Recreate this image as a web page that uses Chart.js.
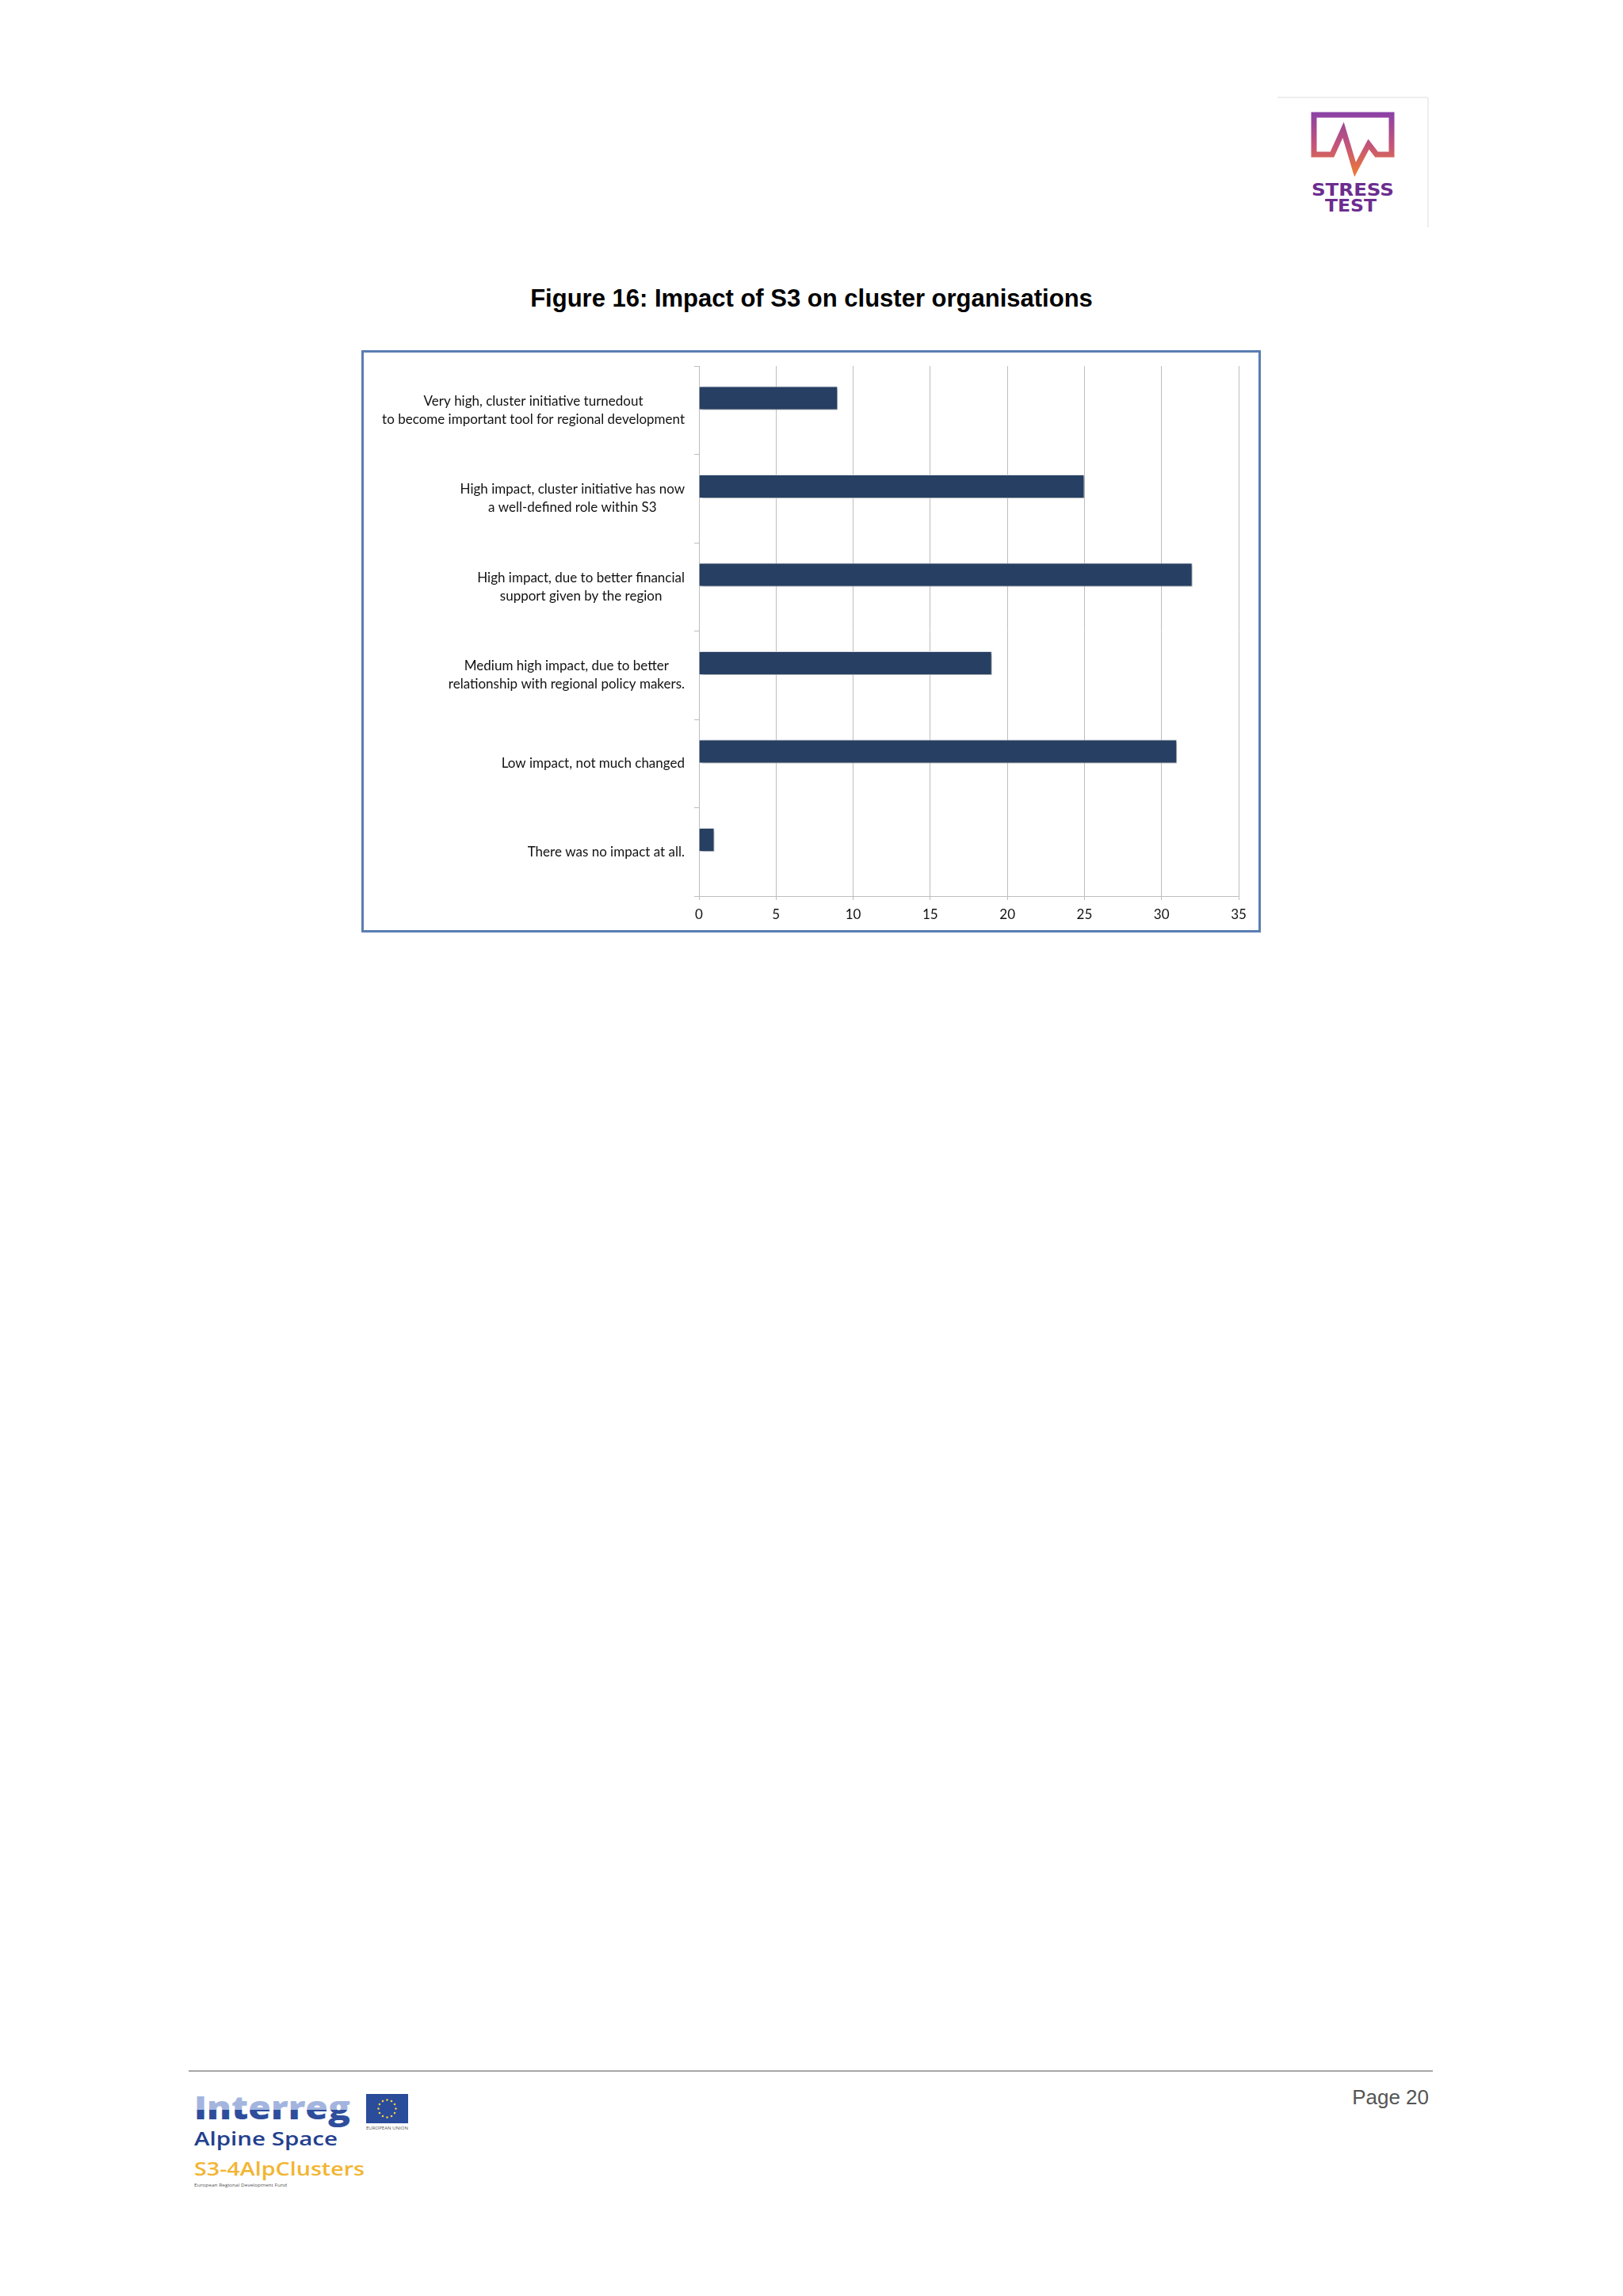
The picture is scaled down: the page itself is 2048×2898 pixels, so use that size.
<!DOCTYPE html>
<html>
<head>
<meta charset="utf-8">
<script src="https://cdn.jsdelivr.net/npm/chart.js@4.4.1/dist/chart.umd.min.js"></script>
<style>
  html, body { margin: 0; padding: 0; background: #ffffff; }
  body { width: 2048px; height: 2898px; position: relative; overflow: hidden; }
  #page { position: absolute; left: 0; top: 0; }
  #chartBox { position: absolute; left: 456px; top: 442px; width: 1135px; height: 735px;
              box-sizing: border-box; border: 3px solid #5B7DB2; background: #ffffff; }
  #chartWrap { position: relative; width: 1129px; height: 729px; }
</style>
</head>
<body>
<svg id="page" width="2048" height="2898" xmlns="http://www.w3.org/2000/svg">
  <defs>
    <linearGradient id="stressGrad" gradientUnits="userSpaceOnUse" x1="0" y1="142" x2="0" y2="217">
      <stop offset="0" stop-color="#8A41A6"/>
      <stop offset="0.55" stop-color="#C4547A"/>
      <stop offset="1" stop-color="#E8763A"/>
    </linearGradient>
    <linearGradient id="interregGrad" gradientUnits="userSpaceOnUse" x1="0" y1="2645" x2="0" y2="2685">
      <stop offset="0" stop-color="#A3B5DE"/>
      <stop offset="0.45" stop-color="#A3B5DE"/>
      <stop offset="0.45" stop-color="#2E4D9C"/>
      <stop offset="1" stop-color="#2E4D9C"/>
    </linearGradient>
  </defs>
  <!-- header logo box -->
  <line x1="1612" y1="123" x2="1802" y2="123" stroke="#E8E8E8" stroke-width="1.5"/>
  <line x1="1802" y1="123" x2="1802" y2="287" stroke="#E8E8E8" stroke-width="1.5"/>
  <path d="M1681,195 L1658,195 L1658,145 L1756,145 L1756,195 L1737,195 L1727,182 L1710,214 L1695,164 Z"
        fill="none" stroke="url(#stressGrad)" stroke-width="7" stroke-linejoin="miter"/>
  <text x="1655" y="247" font-family="DejaVu Sans" font-weight="700" font-size="21" fill="#6C2D8F"
        textLength="104" lengthAdjust="spacingAndGlyphs">STRESS</text>
  <text x="1672" y="267" font-family="DejaVu Sans" font-weight="700" font-size="21" fill="#6C2D8F"
        textLength="65" lengthAdjust="spacingAndGlyphs">TEST</text>

  <!-- title -->
  <text x="1024" y="387" text-anchor="middle" font-family="Liberation Sans" font-weight="700"
        font-size="31" fill="#000000">Figure 16: Impact of S3 on cluster organisations</text>

  <!-- footer -->
  <line x1="238" y1="2614" x2="1808" y2="2614" stroke="#8A8A8A" stroke-width="1.5"/>
  <text x="1803" y="2656" text-anchor="end" font-family="Liberation Sans" font-size="26" fill="#555555">Page 20</text>

  <text x="245" y="2675" font-family="Open Sans" font-weight="800" font-size="41" fill="url(#interregGrad)"
        textLength="197" lengthAdjust="spacingAndGlyphs">Interreg</text>
  <text x="245" y="2708" font-family="Open Sans" font-weight="600" font-size="24" fill="#233F8E"
        textLength="181" lengthAdjust="spacingAndGlyphs">Alpine Space</text>
  <text x="245" y="2746" font-family="Open Sans" font-weight="600" font-size="24" fill="#F2B532"
        textLength="215" lengthAdjust="spacingAndGlyphs">S3-4AlpClusters</text>
  <text x="245" y="2760" font-family="Open Sans" font-size="6" fill="#555555"
        textLength="117" lengthAdjust="spacingAndGlyphs">European Regional Development Fund</text>
  <rect x="462" y="2643" width="53" height="37" fill="#2B4B9B"/>
  <g id="euStars"></g>
  <text x="462" y="2688" font-family="Open Sans" font-size="5" fill="#555555"
        textLength="53" lengthAdjust="spacingAndGlyphs">EUROPEAN UNION</text>
</svg>

<div id="chartBox"><div id="chartWrap"><canvas id="chart"></canvas></div></div>

<script>
// ---------------- data ----------------
const categories = [
  ['Very high, cluster initiative turnedout', 'to become important tool for regional development'],
  ['High impact, cluster initiative has now', 'a well-defined role within S3'],
  ['High impact, due to better financial', 'support given by the region'],
  ['Medium high impact, due to better', 'relationship with regional policy makers.'],
  ['Low impact, not much changed'],
  ['There was no impact at all.']
];
const responses = [9, 25, 32, 19, 31, 1];
const secondSeries = [null, null, null, null, null, null];
const xTickValues = [0, 5, 10, 15, 20, 25, 30, 35];

// EU flag stars (decoration)
(function () {
  const g = document.getElementById('euStars');
  const cx = 488.5, cy = 2661.5, r = 11;
  for (let i = 0; i < 12; i++) {
    const a = i * Math.PI / 6;
    const c = document.createElementNS('http://www.w3.org/2000/svg', 'circle');
    c.setAttribute('cx', cx + r * Math.cos(a));
    c.setAttribute('cy', cy + r * Math.sin(a));
    c.setAttribute('r', 1.3);
    c.setAttribute('fill', '#F5D33A');
    g.appendChild(c);
  }
})();

const barShadow = {
  id: 'barShadow',
  beforeDatasetsDraw(chart) {
    const c = chart.ctx;
    c.save();
    c.shadowColor = 'rgba(0,0,0,0.35)';
    c.shadowBlur = 4;
    c.shadowOffsetX = 2;
    c.shadowOffsetY = 2;
  },
  afterDatasetsDraw(chart) { chart.ctx.restore(); }
};

const yLabels = {
  id: 'yLabels',
  afterDraw(chart) {
    const scale = chart.scales.y;
    const c = chart.ctx;
    c.save();
    c.font = '17px Lato';
    c.fillStyle = '#111111';
    c.textAlign = 'center';
    c.textBaseline = 'middle';
    const lh = 23;
    scale.ticks.forEach((t, i) => {
      const lines = categories[i];
      const y = scale.getPixelForTick(i);
      const w = Math.max(...lines.map(l => c.measureText(l).width));
      const cx = scale.right - 18 - w / 2;
      lines.forEach((l, j) => c.fillText(l, cx, y + (j - (lines.length - 1) / 2) * lh));
    });
    c.restore();
  }
};

function draw() {
  new Chart(document.getElementById('chart'), {
    type: 'bar',
    data: {
      labels: categories,
      datasets: [
        { label: 'Cluster organisations', data: responses, backgroundColor: '#263F63',
          borderColor: '#E3E8F0', borderWidth: 1, categoryPercentage: 0.55, barPercentage: 0.98 },
        { label: '', data: secondSeries, backgroundColor: '#263F63',
          categoryPercentage: 0.55, barPercentage: 0.98 }
      ]
    },
    options: {
      indexAxis: 'y',
      responsive: true,
      maintainAspectRatio: false,
      animation: false,
      layout: { padding: { left: 0, top: 17, right: 25, bottom: 0 } },
      plugins: { legend: { display: false }, tooltip: { enabled: false } },
      scales: {
        x: {
          type: 'linear', min: 0, max: 35, position: 'bottom',
          grid: { color: '#BDBDBD', lineWidth: 1, drawTicks: true, tickLength: 5 },
          border: { display: true, color: '#BDBDBD' },
          ticks: { font: { family: 'Lato', size: 17 }, color: '#111111', padding: 8 },
          afterBuildTicks: s => { s.ticks = xTickValues.map(v => ({ value: v })); },
          afterFit: s => { s.height = 43; }
        },
        y: {
          type: 'category',
          grid: { display: true, drawOnChartArea: false, drawTicks: true, tickLength: 6,
                  color: '#BDBDBD', offset: true },
          border: { display: true, color: '#BDBDBD' },
          ticks: { display: false },
          afterFit: s => { s.width = 423; }
        }
      }
    },
    plugins: [barShadow, yLabels]
  });
}

Promise.all([
  document.fonts.load('17px Lato'),
  document.fonts.load('700 21px "DejaVu Sans"'),
  document.fonts.load('700 31px "Liberation Sans"'),
  document.fonts.load('800 41px "Open Sans"')
]).then(draw, draw);
</script>
</body>
</html>
